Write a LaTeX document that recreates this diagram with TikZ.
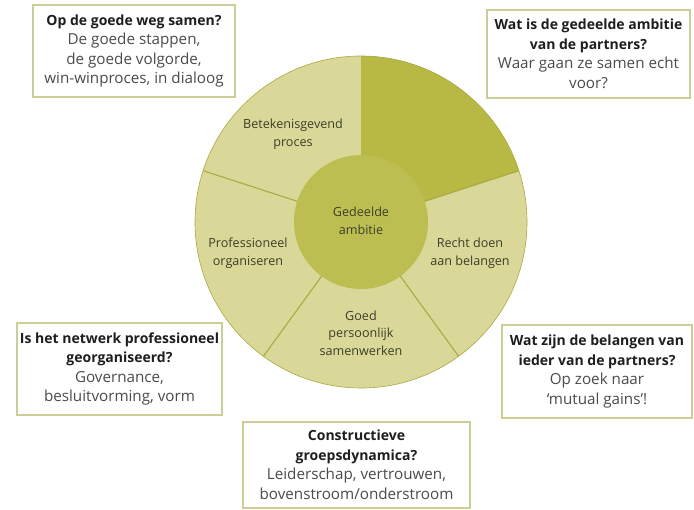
\documentclass[tikz,border=0pt]{standalone}
\usepackage{fontspec}
\setmainfont{Open Sans}
\definecolor{segLight}{RGB}{218,216,152}
\definecolor{segDark}{RGB}{184,185,68}
\definecolor{innerC}{RGB}{189,190,82}
\definecolor{segLine}{RGB}{168,170,66}
\definecolor{boxLine}{RGB}{205,205,150}
\definecolor{txtDark}{RGB}{30,30,30}
\definecolor{txtGrey}{RGB}{75,75,75}
\definecolor{txtCirc}{RGB}{60,62,40}
\tikzset{
  infobox/.style={draw=boxLine, line width=1.5pt, fill=white, align=center, inner sep=0pt,
    font=\fontsize{15.2}{19.5}\selectfont, text=txtGrey},
  seglabel/.style={align=center, inner sep=0pt, font=\fontsize{12.6}{17.5}\selectfont, text=txtCirc}
}
\newcommand{\hd}[1]{{\fontsize{14}{19.5}\selectfont\bfseries\color{txtDark}#1}}
\begin{document}
\begin{tikzpicture}[x=1pt,y=-1pt]
\useasboundingbox (0,0) rectangle (694,510);
\fill[white] (0,0) rectangle (694,510);
\begin{scope}[shift={(361,222)}, y=1pt]
  \fill[segLight] (0,0) circle (166);
  \fill[segDark] (0,0) -- (90:166) arc (90:18:166) -- cycle;
  \draw[segLine, line width=0.6pt] (0,0) circle (166);
  \foreach \a in {18,-54,-126,162} \draw[segLine, line width=1.1pt] (\a:60) -- (\a:166);
  \fill[innerC] (0,0) circle (67);
\end{scope}
\node[seglabel] (bet) at (293,134) {Betekenisgevend\\proces};
\node[seglabel] (prof) at (248,253) {Professioneel\\organiseren};
\node[seglabel] (recht) at (470,253) {Recht doen\\aan belangen};
\node[seglabel] (goed) at (361,333) {Goed\\persoonlijk\\samenwerken};
\node[seglabel] (ged) at (361,221) {Gedeelde\\ambitie};

\node[infobox, minimum width=202, minimum height=92] (b1) at (134,51)
  {\hd{Op de goede weg samen?}\\De goede stappen,\\de goede volgorde,\\win-winproces, in dialoog};
\node[infobox, minimum width=203, minimum height=88] (b2) at (588.5,54)
  {\hd{Wat is de gedeelde ambitie}\\\hd{van de partners?}\\Waar gaan ze samen echt\\voor?};
\node[infobox, minimum width=205, minimum height=92] (b3) at (119.5,369)
  {\hd{Is het netwerk professioneel}\\\hd{georganiseerd?}\\Governance,\\besluitvorming, vorm};
\node[infobox, minimum width=190, minimum height=93] (b4) at (597,371.5)
  {\hd{Wat zijn de belangen van}\\\hd{ieder van de partners?}\\Op zoek naar\\`mutual gains'!};
\node[infobox, minimum width=227, minimum height=86] (b5) at (356.5,465)
  {\hd{Constructieve}\\\hd{groepsdynamica?}\\Leiderschap, vertrouwen,\\bovenstroom/onderstroom};
\end{tikzpicture}
\end{document}
